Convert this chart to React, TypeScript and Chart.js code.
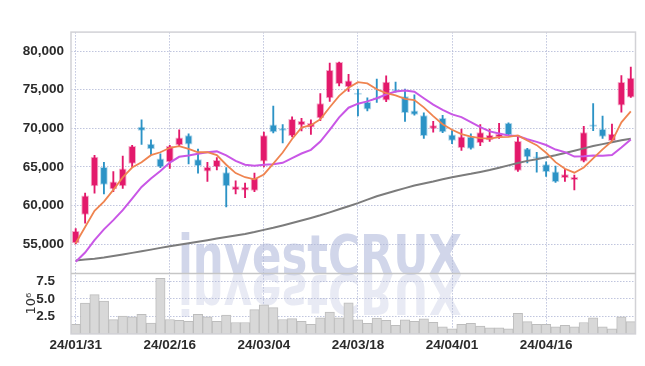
import React, { useEffect, useRef } from 'react';
import { Chart, registerables } from 'chart.js';

Chart.register(...registerables);

const DATES = [
  '24/01/31', '24/02/01', '24/02/02', '24/02/05', '24/02/06', '24/02/07', '24/02/08', '24/02/13', '24/02/14', '24/02/15',
  '24/02/16', '24/02/19', '24/02/20', '24/02/21', '24/02/22', '24/02/23', '24/02/26', '24/02/27', '24/02/28', '24/02/29',
  '24/03/04', '24/03/05', '24/03/06', '24/03/07', '24/03/08', '24/03/11', '24/03/12', '24/03/13', '24/03/14', '24/03/15',
  '24/03/18', '24/03/19', '24/03/20', '24/03/21', '24/03/22', '24/03/25', '24/03/26', '24/03/27', '24/03/28', '24/03/29',
  '24/04/01', '24/04/02', '24/04/03', '24/04/04', '24/04/05', '24/04/08', '24/04/09', '24/04/11', '24/04/12', '24/04/15',
  '24/04/16', '24/04/17', '24/04/18', '24/04/19', '24/04/22', '24/04/23', '24/04/24', '24/04/25', '24/04/26', '24/04/29',
];

const OPEN = [
  55100, 58800, 62500, 65000, 62100, 62500, 65400, 70200, 68000, 66100,
  65600, 67800, 69100, 66000, 64400, 65000, 64300, 62000, 61950, 61900,
  65700, 70500, 70000, 69000, 70400, 70100, 71300, 73900, 75750, 75350,
  74450, 73400, 73950, 73600, 75050, 74150, 72300, 71700, 69950, 71350,
  69200, 67450, 68950, 68100, 68450, 68800, 70700, 64500, 67400, 66200,
  65350, 64400, 63550, 63300, 65700, 70500, 69900, 68350, 72950, 74000,
];
const HIGH = [
  57000, 61600, 66500, 65600, 64400, 66400, 67800, 71100, 68500, 66700,
  67800, 69800, 69300, 67300, 65600, 66200, 64900, 63200, 62900, 64200,
  69500, 72900, 70500, 71500, 71300, 71100, 74500, 78450, 78600, 77000,
  75100, 73950, 76400, 76800, 76000, 75100, 74350, 72000, 70900, 71700,
  69700, 69900, 69300, 70500, 69900, 70650, 70700, 69050, 67400, 66900,
  65650, 65100, 64700, 63950, 70250, 73200, 71600, 70550, 76850, 77950,
];
const LOW = [
  55000, 57700, 61600, 61500, 61800, 62200, 65000, 67900, 66600, 64900,
  64800, 67700, 65400, 64200, 63100, 64600, 59800, 61500, 61000, 61800,
  65000, 69400, 68100, 68900, 69650, 69200, 71000, 73500, 75500, 74800,
  71600, 72250, 73350, 73450, 74700, 70900, 71700, 68700, 69500, 69450,
  68000, 67150, 67300, 67750, 68300, 68700, 69100, 64400, 65500, 64300,
  63750, 63000, 63100, 62000, 65650, 69700, 68700, 68300, 72100, 74000,
];
const CLOSE = [
  56700, 61300, 66300, 62700, 63100, 64800, 67700, 69700, 67300, 65000,
  67700, 68800, 67900, 65100, 65000, 65900, 62500, 62500, 62400, 63600,
  69100, 69500, 69700, 71200, 70950, 70700, 73250, 77550, 78600, 76200,
  74350, 72450, 73750, 76050, 74800, 72000, 71750, 69000, 70400, 69500,
  68400, 68950, 67350, 69500, 69150, 69300, 69100, 68350, 66250, 66100,
  64350, 63050, 64050, 63700, 69500, 70200, 68900, 69300, 76000, 76550,
];

const MA5 = [
  55100, 57200, 59300, 60500, 62020, 63640, 64920, 65600, 66520, 66900,
  67480, 67700, 67340, 66900, 66900, 66540, 65280, 64200, 63660, 63380,
  64020, 65420, 66860, 68620, 70090, 70410, 71160, 72730, 74210, 75260,
  75990, 75830, 75070, 74560, 74280, 73810, 73670, 72720, 71590, 70530,
  69810, 69250, 68920, 68740, 68670, 68850, 68880, 69080, 68430, 67820,
  66830, 65620, 64760, 64250, 64930, 66100, 67270, 68320, 70780, 72190,
];
const MA10 = [
  52700, 53900, 55500, 56900, 58100, 59400, 60900, 62400, 63500, 64460,
  65560, 66310, 66470, 66710, 66900, 67010, 66490, 65770, 65280, 65140,
  65280, 65350, 65530, 66140, 66735, 67215, 68290, 69795, 71415, 72675,
  73200, 73495, 73900, 74385, 74770, 74900, 74750, 73895, 73075, 72405,
  71810, 71460, 70820, 70165, 69600, 69330, 69065, 69000, 68585, 68245,
  67840, 67250, 66920, 66340, 66375, 66465, 66445, 66540, 67515, 68560,
];
const MA60 = [
  52860, 52980, 53100, 53250, 53450, 53650, 53850, 54050, 54270, 54500,
  54720, 54900, 55100, 55300, 55500, 55700, 55900, 56100, 56300, 56550,
  56830, 57100, 57400, 57720, 58050, 58380, 58720, 59100, 59500, 59900,
  60300, 60750, 61200, 61550, 61900, 62250, 62580, 62850, 63100, 63400,
  63650, 63880, 64100, 64350, 64600, 64900, 65200, 65500, 65780, 66000,
  66250, 66500, 66800, 67100, 67400, 67700, 67950, 68200, 68450, 68650,
];

// volume in millions of shares (axis unit 10^6)
const VOLUME = [
  1.36, 4.4, 5.6, 4.67, 2.04, 2.55, 2.44, 2.8, 1.53, 7.9,
  2.05, 1.92, 1.8, 2.8, 2.43, 1.8, 2.68, 1.63, 1.63, 3.47,
  4.15, 3.75, 2.05, 2.17, 1.8, 1.37, 2.3, 3.1, 2.3, 4.42,
  2.0, 1.5, 2.26, 1.92, 1.23, 2.0, 1.78, 2.15, 1.65, 0.99,
  0.72, 1.36, 1.5, 1.1, 0.86, 0.86, 0.72, 2.94, 1.75, 1.36,
  1.36, 0.99, 1.23, 0.99, 1.62, 2.28, 0.99, 0.72, 2.44, 1.75,
];

const PRICE_TICKS = [55000, 60000, 65000, 70000, 75000, 80000];
const VOLUME_TICKS = [2.5, 5.0, 7.5];
const LABEL_STEP = 10;
const PRICE_MIN = 51170;
const PRICE_MAX = 82480;
const VOLUME_MAX = 8.6;
const WATERMARK = 'investCRUX';

const UP = '#E3196B';
const UP_EDGE = 'rgba(227,25,107,0.35)';
const DOWN = '#2C93C6';
const DOWN_EDGE = 'rgba(44,147,198,0.35)';
const ORANGE = '#EF8450';
const PURPLE = '#C957E6';
const GRAY = '#7C7C7C';
const GRID = 'rgba(176,182,214,0.8)';
const FRAME = '#D2D2D6';
const TICK_FONT = { family: "'Liberation Sans', Arial, sans-serif", size: 13.5, weight: 'bold' as const };
const TICK_COLOR = '#2b2b2b';

const decorPlugin = {
  id: 'decor',
  beforeDraw(chart: any) {
    const vol = chart.scales.vol;
    const area = chart.chartArea;
    if (!vol || !area) return;
    const ctx = chart.ctx;
    ctx.save();
    ctx.font = "bold 55px 'DejaVu Sans', sans-serif";
    ctx.textBaseline = 'alphabetic';
    const w = ctx.measureText(WATERMARK).width;
    const sx = 284 / w;
    ctx.translate(area.left + 107, vol.top);
    ctx.scale(sx, 1);
    ctx.fillStyle = 'rgb(209,214,234)';
    ctx.fillText(WATERMARK, 0, 0);
    ctx.scale(1, -1);
    ctx.fillStyle = 'rgba(209,214,234,0.5)';
    ctx.fillText(WATERMARK, 0, -1);
    ctx.restore();
  },
  afterDraw(chart: any) {
    const vol = chart.scales.vol;
    const a = chart.chartArea;
    const ctx = chart.ctx;
    ctx.save();
    ctx.strokeStyle = FRAME;
    ctx.lineWidth = 1.5;
    ctx.strokeRect(a.left, a.top, a.right - a.left, a.bottom - a.top);
    ctx.strokeStyle = '#C6C6C6';
    ctx.beginPath();
    ctx.moveTo(a.left, vol.top);
    ctx.lineTo(a.right, vol.top);
    ctx.stroke();
    ctx.restore();
  },
};

export default function App() {
  const ref = useRef<HTMLCanvasElement | null>(null);

  useEffect(() => {
    if (!ref.current) return;
    const upFlags = CLOSE.map((c, i) => c >= OPEN[i]);
    const colors = upFlags.map((u) => (u ? UP : DOWN));
    const edges = upFlags.map((u) => (u ? UP_EDGE : DOWN_EDGE));
    const bodies = OPEN.map((o, i) => [Math.min(o, CLOSE[i]), Math.max(o, CLOSE[i])]);
    const wicks = LOW.map((l, i) => [l, HIGH[i]]);

    const chart = new Chart(ref.current, {
      type: 'bar',
      data: {
        labels: DATES,
        datasets: [
          { type: 'line', label: 'MA5', data: MA5, yAxisID: 'y', borderColor: ORANGE, borderWidth: 1.8, pointRadius: 0, tension: 0, order: 0 } as any,
          { type: 'line', label: 'MA10', data: MA10, yAxisID: 'y', borderColor: PURPLE, borderWidth: 2, pointRadius: 0, tension: 0, order: 0 } as any,
          { type: 'line', label: 'MA60', data: MA60, yAxisID: 'y', borderColor: GRAY, borderWidth: 2, pointRadius: 0, tension: 0, order: 0 } as any,
          { type: 'bar', label: 'body', data: bodies, yAxisID: 'y', backgroundColor: colors, borderColor: edges, borderWidth: 1, borderSkipped: false, barPercentage: 0.82, categoryPercentage: 1, grouped: false, minBarLength: 2, order: 1 } as any,
          { type: 'bar', label: 'wick', data: wicks, yAxisID: 'y', backgroundColor: colors, barThickness: 1.2, grouped: false, order: 2 } as any,
          { type: 'bar', label: 'volume', data: VOLUME, yAxisID: 'vol', backgroundColor: '#D8D8D8', borderColor: '#BDBDBD', borderWidth: 1, barPercentage: 1, categoryPercentage: 1, grouped: false, order: 3 } as any,
        ],
      },
      options: {
        animation: false,
        responsive: true,
        maintainAspectRatio: false,
        layout: { padding: { top: 1.5, right: 1.5, left: 0, bottom: 0 } },
        plugins: { legend: { display: false }, tooltip: { enabled: false } },
        scales: {
          x: {
            type: 'category',
            offset: true,
            grid: {
              offset: false,
              drawTicks: false,
              color: (c: any) => (c.index % LABEL_STEP === 0 ? GRID : 'rgba(0,0,0,0)'),
            },
            border: { display: false, dash: [1.5, 1.5] },
            ticks: {
              autoSkip: false,
              maxRotation: 0,
              minRotation: 0,
              padding: 3,
              font: TICK_FONT,
              color: TICK_COLOR,
              callback: (_v: any, i: number) => (i % LABEL_STEP === 0 ? DATES[i] : ''),
            },
            afterFit: (s: any) => { s.height = 19.5; },
          },
          y: {
            type: 'linear',
            position: 'left',
            stack: 'panels',
            stackWeight: 4,
            weight: 1,
            min: PRICE_MIN,
            max: PRICE_MAX,
            afterBuildTicks: (s: any) => { s.ticks = PRICE_TICKS.map((v) => ({ value: v })); },
            grid: { color: GRID, drawTicks: false },
            border: { display: false, dash: [1.5, 1.5] },
            ticks: {
              autoSkip: false,
              padding: 7,
              font: TICK_FONT,
              color: TICK_COLOR,
              callback: (v: any) => Number(v).toLocaleString('en-US'),
            },
            afterFit: (s: any) => { s.width = 63; },
          },
          vol: {
            type: 'linear',
            position: 'left',
            stack: 'panels',
            stackWeight: 1,
            weight: 0,
            min: 0,
            max: VOLUME_MAX,
            afterBuildTicks: (s: any) => { s.ticks = VOLUME_TICKS.map((v) => ({ value: v })); },
            grid: { color: GRID, drawTicks: false },
            border: { display: false, dash: [1.5, 1.5] },
            ticks: {
              autoSkip: false,
              padding: 16,
              font: TICK_FONT,
              color: TICK_COLOR,
              callback: (v: any) => Number(v).toFixed(1),
            },
            title: {
              display: true,
              text: '10⁶',
              padding: { top: 16, bottom: 0 },
              font: { family: "'DejaVu Sans', sans-serif", size: 13 },
              color: '#333',
            },
            afterFit: (s: any) => { s.width = 63; },
          },
        },
      } as any,
      plugins: [decorPlugin],
    });
    return () => chart.destroy();
  }, []);

  return (
    <div style={{ position: 'relative', width: 629, height: 350 }}>
      <canvas ref={ref} />
    </div>
  );
}
